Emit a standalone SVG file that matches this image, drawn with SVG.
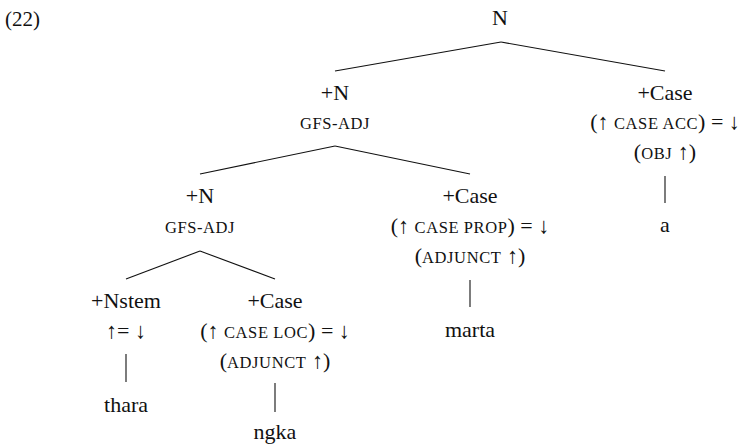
<svg xmlns="http://www.w3.org/2000/svg" width="743" height="446" viewBox="0 0 743 446">
<style>
text{font-family:"Liberation Serif","Times New Roman",serif;font-size:22px;fill:#111;text-anchor:middle}
.sc{font-size:16.5px;letter-spacing:0.6px}
.num{text-anchor:start;font-size:21px}
.edges line{stroke:#111;stroke-width:1.1}
</style>
<rect width="743" height="446" fill="#fff"/>
<text class="num" x="5" y="26">(22)</text>
<g class="edges" id="connectors">
<line x1="501" y1="42" x2="335" y2="71"/>
<line x1="501" y1="42" x2="665" y2="71"/>
<line x1="335" y1="146" x2="200" y2="174"/>
<line x1="335" y1="146" x2="470" y2="174"/>
<line x1="200" y1="251" x2="126" y2="279"/>
<line x1="200" y1="251" x2="275" y2="279"/>
<line x1="126" y1="354" x2="126" y2="382"/>
<line x1="275" y1="383" x2="275" y2="412"/>
<line x1="470" y1="280" x2="470" y2="307"/>
<line x1="665" y1="176" x2="665" y2="203"/>
</g>
<g id="n-root"><text x="500" y="25">N</text></g>
<g id="n-N1">
<text x="335" y="100">+N</text>
<text x="335" y="129" class="sc">GFS-ADJ</text>
</g>
<g id="n-caseacc">
<text x="665" y="100">+Case</text>
<text x="665" y="129">(↑ <tspan class="sc">CASE ACC</tspan>) = ↓</text>
<text x="665" y="159">(<tspan class="sc">OBJ</tspan> ↑)</text>
</g>
<g id="n-a"><text x="665" y="232">a</text></g>
<g id="n-N2">
<text x="200" y="203">+N</text>
<text x="200" y="233" class="sc">GFS-ADJ</text>
</g>
<g id="n-caseprop">
<text x="470" y="203">+Case</text>
<text x="470" y="233">(↑ <tspan class="sc">CASE PROP</tspan>) = ↓</text>
<text x="470" y="263">(<tspan class="sc">ADJUNCT</tspan> ↑)</text>
</g>
<g id="n-marta"><text x="470" y="337">marta</text></g>
<g id="n-nstem">
<text x="126" y="308">+Nstem</text>
<text x="126" y="338">↑= ↓</text>
</g>
<g id="n-thara"><text x="126" y="412">thara</text></g>
<g id="n-caseloc">
<text x="275" y="308">+Case</text>
<text x="275" y="338">(↑ <tspan class="sc">CASE LOC</tspan>) = ↓</text>
<text x="275" y="368">(<tspan class="sc">ADJUNCT</tspan> ↑)</text>
</g>
<g id="n-ngka"><text x="275" y="439">ngka</text></g>
</svg>
